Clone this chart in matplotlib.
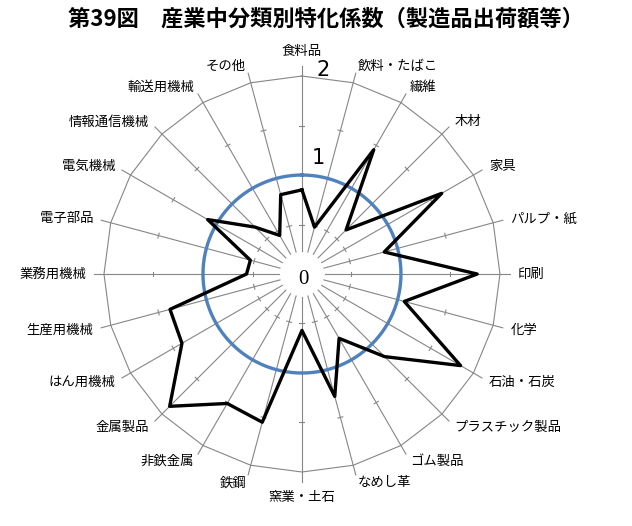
import numpy as np
import matplotlib
matplotlib.use('Agg')
import matplotlib.pyplot as plt

plt.rcParams['font.family'] = ['Noto Sans CJK JP', 'DejaVu Sans']

title = '第39図\u3000産業中分類別特化係数（製造品出荷額等）'

# categories clockwise from the top
categories = ['食料品', '飲料・たばこ', '繊維', '木材', '家具', 'パルプ・紙',
              '印刷', '化学', '石油・石炭', 'プラスチック製品', 'ゴム製品', 'なめし革',
              '窯業・土石', '鉄鋼', '非鉄金属', '金属製品', 'はん用機械', '生産用機械',
              '業務用機械', '電子部品', '電気機械', '情報通信機械', '輸送用機械', 'その他']
values = [0.85, 0.49, 1.45, 0.63, 1.63, 0.86,
          1.77, 1.07, 1.85, 1.18, 0.75, 1.28,
          0.57, 1.55, 1.51, 1.89, 1.40, 1.38,
          0.56, 0.54, 1.10, 0.67, 0.45, 0.83]
rticks = [0.5, 1.0, 1.5]
rmax = 2.0

n = len(categories)
theta = np.arange(n) * 2 * np.pi / n

fig = plt.figure(figsize=(6.32, 5.26), dpi=100)
ax = fig.add_axes([0.1332, 0.0650, 0.6892, 0.8281], projection='polar')
ax.set_theta_zero_location('N')
ax.set_theta_direction(-1)
ax.set_ylim(0, 2.2)
ax.grid(False)
ax.set_xticks([])
ax.set_yticks([])
ax.spines['polar'].set_visible(False)

grey = '#868686'

# spokes and small tick marks
for t in theta:
    ax.plot([t, t], [0.23, 2.1], color=grey, lw=0.8, zorder=1)
    for r in rticks:
        d = 0.025 / r
        ax.plot([t - d, t + d], [r, r], color=grey, lw=0.8, zorder=1)

# outer polygon
ax.plot(np.append(theta, theta[0]), [rmax] * (n + 1), color=grey, lw=0.8, zorder=1)

# reference circle at 1
tc = np.linspace(0, 2 * np.pi, 361)
ax.plot(tc, np.ones_like(tc), color='#4F81BD', lw=2.4, zorder=2)

# data
ax.plot(np.append(theta, theta[0]), values + values[:1], color='black', lw=2.4, zorder=3)

# category labels
for t, lab in zip(theta, categories):
    s, c = np.sin(t), np.cos(t)
    if abs(s) < 0.05:
        ha = 'center'
    elif s > 0:
        ha = 'left'
    else:
        ha = 'right'
    if c > 0.99:
        va = 'bottom'
    elif c < -0.99:
        va = 'top'
    else:
        va = 'center'
    ax.text(t, 2.18, lab, ha=ha, va=va, fontsize=9.6)

# value labels
num_font = ['Liberation Sans Narrow', 'DejaVu Sans']
ax.annotate('0', xy=(0, 0), xytext=(1, -4), textcoords='offset points',
            ha='center', va='center', fontsize=15, family=['Liberation Serif', 'DejaVu Serif'])
ax.annotate('1', xy=(0, 1), xytext=(11.5, 12), textcoords='offset points',
            ha='center', va='center', fontsize=15, family=num_font)
ax.annotate('2', xy=(0, 2), xytext=(15, 4), textcoords='offset points',
            ha='center', va='center', fontsize=15, family=num_font)

fig.text(326 / 632, 1 - 19 / 526, title, ha='center', va='center',
         fontsize=16, fontweight='bold')

fig.savefig('out.png', dpi=100)
